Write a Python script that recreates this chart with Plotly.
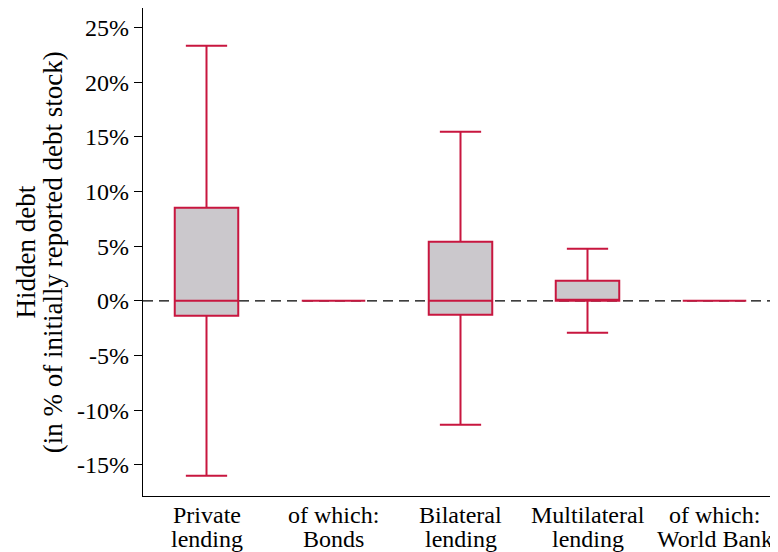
import plotly.graph_objects as go

categories = ["Private lending", "Bonds", "Bilateral lending",
              "Multilateral lending", "World Bank"]
label_top = ["Private", "of which:", "Bilateral", "Multilateral", "of which:"]
label_bottom = ["lending", "Bonds", "lending", "lending", "World Bank"]
lower_whisker = [-16.0, 0.0, -11.35, -2.93, 0.0]
q1 = [-1.37, 0.0, -1.28, 0.0, 0.0]
median = [0.0, 0.0, 0.0, 0.0, 0.0]
q3 = [8.52, 0.0, 5.4, 1.83, 0.0]
upper_whisker = [23.35, 0.0, 15.48, 4.76, 0.0]
y_ticks = [-15, -10, -5, 0, 5, 10, 15, 20, 25]

red = "#C8163F"
font_family = "Liberation Serif, Times New Roman, serif"

fig = go.Figure()
fig.add_trace(go.Box(
    x=categories,
    q1=q1, median=median, q3=q3,
    lowerfence=lower_whisker, upperfence=upper_whisker,
    fillcolor="#CBC8CC",
    line=dict(color=red, width=2),
    width=0.5,
    whiskerwidth=0.65,
    boxpoints=False,
    showlegend=False,
))

# dashed zero reference line
fig.add_shape(type="line", xref="paper", yref="y", x0=0, x1=1, y0=0, y1=0,
              line=dict(color="black", width=1.3, dash="10px,6px"), layer="below")

# two-line category labels (tight line spacing like the original)
for cat, top, bottom in zip(categories, label_top, label_bottom):
    fig.add_annotation(x=cat, y=-0.039, xref="x", yref="paper", text=top,
                       showarrow=False, xanchor="center", yanchor="middle",
                       font=dict(size=24))
    fig.add_annotation(x=cat, y=-0.088, xref="x", yref="paper", text=bottom,
                       showarrow=False, xanchor="center", yanchor="middle",
                       font=dict(size=24))

# y axis title, two lines
fig.add_annotation(x=-0.1835, y=0.5, xref="paper", yref="paper", text="Hidden debt",
                   textangle=-90, showarrow=False, xanchor="center", yanchor="middle",
                   font=dict(size=27))
fig.add_annotation(x=-0.1415, y=0.5, xref="paper", yref="paper",
                   text="(in % of initially reported debt stock)",
                   textangle=-90, showarrow=False, xanchor="center", yanchor="middle",
                   font=dict(size=27))

# the page body adds an 8px offset, so the figure is sized to fit what remains
fig.update_layout(
    width=770, height=544,
    margin=dict(l=135, r=0, t=0, b=56),
    plot_bgcolor="white", paper_bgcolor="white",
    font=dict(family=font_family, size=24, color="black"),
    xaxis=dict(showline=True, linecolor="black", linewidth=1.3, ticks="",
               showgrid=False, showticklabels=False, range=[-0.5, 4.5]),
    yaxis=dict(range=[-17.86, 26.8], tickvals=y_ticks,
               ticktext=[f"{v}%" for v in y_ticks],
               showline=True, linecolor="black", linewidth=1.3,
               ticks="outside", ticklen=8, tickcolor="black",
               showgrid=False, zeroline=False, tickfont=dict(size=24)),
)

fig.write_html("out.html")
